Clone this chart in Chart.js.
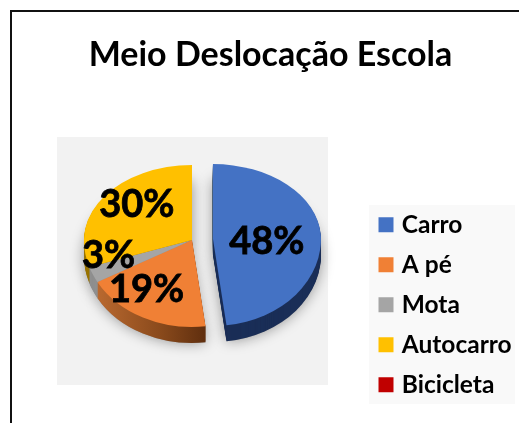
<!DOCTYPE html>
<html>
<head>
<meta charset="utf-8">
<style>html,body{margin:0;padding:0;background:#fff;overflow:hidden}canvas{display:block}</style>
<script src="https://cdn.jsdelivr.net/npm/chart.js@4"></script>
</head>
<body>
<canvas id="c" width="519" height="423"></canvas>
<script>
const titleText = 'Meio Deslocação Escola';
const categories = ['Carro', 'A pé', 'Mota', 'Autocarro', 'Bicicleta'];
const values = [48, 19, 3, 30, 0];
const topColors = ['#4472c4', '#f08035', '#a5a5a5', '#ffc000', '#c00000'];
const sideColors = ['#1a2e57', null, '#8f8f8f', '#9a7400', '#700000'];
const explodePx = [21, 0, 0, 0, 0];
const labelNudge = [[-13, 5], [-15, 2], [-22, -6], [-1, -8], [0, 0]];
const FONT = 'Lato, Carlito, sans-serif';

const PIE = {cx: 192, cy: 240, r: 108, topRy: 75, botRy: 87, depth: 16};

function drawHalf(ctx, chart, top, dy, fn) {
  ctx.save();
  ctx.beginPath();
  ctx.rect(0, top ? 0 : PIE.cy + dy, chart.width, top ? PIE.cy + dy : chart.height);
  ctx.clip();
  ctx.translate(PIE.cx, PIE.cy + dy);
  ctx.scale(1, (top ? PIE.topRy : PIE.botRy) / PIE.r);
  ctx.translate(-PIE.cx, -PIE.cy);
  fn();
  ctx.restore();
}
function drawArc(ctx, el, i, color) {
  const mid = (el.startAngle + el.endAngle) / 2;
  const saved = el.options;
  el.options = Object.create(saved, {backgroundColor: {value: color}});
  ctx.save();
  ctx.translate(Math.cos(mid) * explodePx[i], Math.sin(mid) * explodePx[i]);
  el.draw(ctx);
  ctx.restore();
  el.options = saved;
}
const pie3d = {
  id: 'pie3d',
  afterLayout(chart) {
    chart.chartArea = {left: PIE.cx - PIE.r, right: PIE.cx + PIE.r, top: PIE.cy - PIE.r, bottom: PIE.cy + PIE.r,
      width: PIE.r * 2, height: PIE.r * 2};
    chart.legend.left = 367;
    chart.legend.top = 197;
    chart.titleBlock.top = 35;
    chart.titleBlock.left = 0;
    chart.titleBlock.right = 541;
  },
  beforeDraw(chart) {
    const ctx = chart.ctx;
    ctx.save();
    ctx.fillStyle = '#ffffff';
    ctx.fillRect(0, 0, chart.width, chart.height);
    ctx.fillStyle = '#f2f2f2';
    ctx.fillRect(57, 137, 271, 248);
    ctx.fillStyle = '#f9f9f9';
    ctx.fillRect(369, 205, 146, 199);
    ctx.fillStyle = '#111111';
    ctx.fillRect(10, 10, 509, 2);
    ctx.fillRect(10, 10, 2, 413);
    ctx.restore();
  },
  beforeDatasetDraw(chart, args) {
    const ctx = chart.ctx;
    const arcs = chart.getDatasetMeta(args.index).data;
    const grad = ctx.createLinearGradient(95, 0, 203, 0);
    grad.addColorStop(0, '#bb6a30');
    grad.addColorStop(0.6, '#8a4a1c');
    grad.addColorStop(1, '#62300f');
    ctx.save();
    ctx.shadowColor = 'rgba(0,0,0,0.4)';
    ctx.shadowBlur = 14;
    arcs.forEach((el, i) => {
      if (!values[i]) return;
      [true, false].forEach(top => drawHalf(ctx, chart, top, PIE.depth, () => drawArc(ctx, el, i, '#999')));
    });
    ctx.restore();
    for (let d = PIE.depth; d >= 1; d--) {
      arcs.forEach((el, i) => {
        if (!values[i]) return;
        const c = sideColors[i] || grad;
        [true, false].forEach(top => drawHalf(ctx, chart, top, d, () => drawArc(ctx, el, i, c)));
      });
    }
    arcs.forEach((el, i) => {
      if (!values[i]) return;
      [true, false].forEach(top => drawHalf(ctx, chart, top, 0, () => drawArc(ctx, el, i, topColors[i])));
    });
    const total = values.reduce((a, b) => a + b, 0);
    ctx.save();
    ctx.fillStyle = '#000';
    ctx.strokeStyle = '#000';
    ctx.lineWidth = 0.8;
    ctx.font = 'bold 38px ' + FONT;
    ctx.textAlign = 'center';
    ctx.textBaseline = 'middle';
    arcs.forEach((el, i) => {
      if (!values[i]) return;
      const mid = (el.startAngle + el.endAngle) / 2;
      const rr = PIE.r * 0.62 + explodePx[i];
      const dy = Math.sin(mid) * PIE.r * 0.62;
      const x = PIE.cx + Math.cos(mid) * rr + labelNudge[i][0];
      const y = PIE.cy + dy * ((dy < 0 ? PIE.topRy : PIE.botRy) / PIE.r) + labelNudge[i][1];
      const txt = Math.round(values[i] / total * 100) + '%';
      ctx.fillText(txt, x, y);
      ctx.strokeText(txt, x, y);
    });
    ctx.restore();
    return false;
  }
};

new Chart(document.getElementById('c'), {
  type: 'pie',
  data: {
    labels: categories,
    datasets: [{data: values, backgroundColor: topColors, borderWidth: 0, radius: PIE.r}]
  },
  plugins: [pie3d],
  options: {
    responsive: false,
    animation: false,
    rotation: 0,
    plugins: {
      tooltip: {enabled: false},
      title: {
        display: true,
        text: titleText,
        color: '#000',
        font: {family: FONT, size: 34, weight: 'bold'},
        padding: 0
      },
      legend: {
        position: 'right',
        align: 'start',
        labels: {
          color: '#000',
          font: {family: FONT, size: 24.5, weight: 'bold'},
          usePointStyle: true,
          pointStyle: 'rect',
          boxWidth: 7,
          boxHeight: 15,
          padding: 15.5
        }
      }
    }
  }
});
</script>
</body>
</html>
